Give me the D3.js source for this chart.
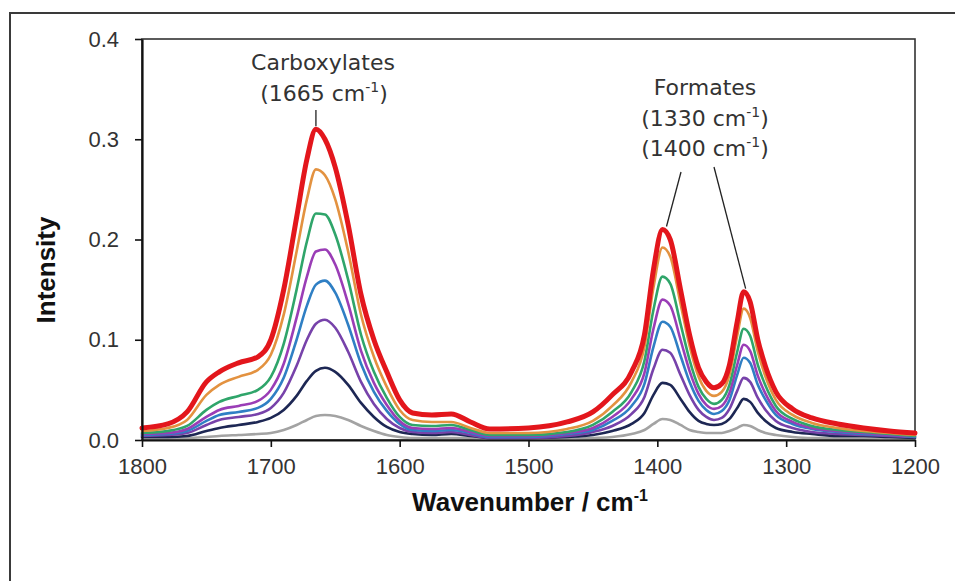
<!DOCTYPE html>
<html>
<head>
<meta charset="utf-8">
<script src="https://cdn.jsdelivr.net/npm/d3@7"></script>
<style>
  html, body { margin: 0; padding: 0; background: #fff; }
  svg { display: block; }
</style>
</head>
<body>
<svg id="chart" width="955" height="581"></svg>
<script>
// Wavenumber grid (cm-1) shared by all spectra
const wavenumbers = [1800, 1780, 1765, 1750, 1740, 1725, 1710, 1700, 1690, 1680, 1672, 1665, 1658, 1650, 1640, 1630, 1620, 1610, 1600, 1590, 1575, 1560, 1545, 1530, 1500, 1470, 1450, 1435, 1420, 1410, 1403, 1396, 1390, 1382, 1375, 1368, 1362, 1356, 1350, 1344, 1338, 1333, 1328, 1322, 1316, 1308, 1295, 1280, 1260, 1240, 1220, 1200];

// Intensities, from the weakest spectrum to the strongest
const spectrum1 = [0.002, 0.002, 0.002, 0.003, 0.004, 0.005, 0.006, 0.007, 0.010, 0.015, 0.020, 0.024, 0.025, 0.024, 0.020, 0.014, 0.009, 0.005, 0.003, 0.002, 0.002, 0.002, 0.002, 0.001, 0.001, 0.001, 0.002, 0.003, 0.006, 0.010, 0.016, 0.021, 0.020, 0.015, 0.010, 0.008, 0.007, 0.007, 0.007, 0.009, 0.012, 0.015, 0.014, 0.010, 0.007, 0.005, 0.003, 0.002, 0.002, 0.002, 0.001, 0.001];
const spectrum2 = [0.003, 0.003, 0.004, 0.009, 0.012, 0.015, 0.018, 0.022, 0.030, 0.044, 0.059, 0.069, 0.072, 0.068, 0.055, 0.037, 0.023, 0.013, 0.008, 0.006, 0.005, 0.006, 0.004, 0.002, 0.002, 0.003, 0.005, 0.009, 0.016, 0.027, 0.045, 0.057, 0.055, 0.041, 0.028, 0.019, 0.016, 0.015, 0.016, 0.021, 0.032, 0.041, 0.038, 0.027, 0.019, 0.012, 0.008, 0.006, 0.004, 0.004, 0.003, 0.002];
const spectrum3 = [0.004, 0.005, 0.007, 0.015, 0.020, 0.023, 0.026, 0.032, 0.047, 0.074, 0.100, 0.116, 0.120, 0.112, 0.088, 0.058, 0.036, 0.021, 0.012, 0.008, 0.007, 0.008, 0.005, 0.002, 0.002, 0.004, 0.008, 0.014, 0.026, 0.043, 0.071, 0.090, 0.087, 0.065, 0.045, 0.030, 0.023, 0.020, 0.022, 0.031, 0.049, 0.062, 0.058, 0.042, 0.030, 0.019, 0.012, 0.008, 0.006, 0.005, 0.004, 0.003];
const spectrum4 = [0.005, 0.006, 0.009, 0.019, 0.025, 0.028, 0.032, 0.041, 0.062, 0.100, 0.134, 0.155, 0.159, 0.147, 0.115, 0.076, 0.048, 0.029, 0.016, 0.010, 0.009, 0.010, 0.007, 0.003, 0.003, 0.006, 0.010, 0.019, 0.034, 0.056, 0.093, 0.118, 0.113, 0.084, 0.058, 0.039, 0.030, 0.026, 0.029, 0.040, 0.065, 0.082, 0.077, 0.055, 0.040, 0.025, 0.016, 0.011, 0.008, 0.006, 0.005, 0.003];
const spectrum5 = [0.006, 0.007, 0.011, 0.023, 0.030, 0.034, 0.039, 0.050, 0.076, 0.122, 0.163, 0.188, 0.190, 0.175, 0.136, 0.089, 0.057, 0.035, 0.019, 0.012, 0.011, 0.012, 0.008, 0.004, 0.004, 0.007, 0.012, 0.023, 0.041, 0.067, 0.111, 0.140, 0.134, 0.100, 0.069, 0.046, 0.035, 0.031, 0.034, 0.047, 0.075, 0.095, 0.089, 0.064, 0.046, 0.029, 0.018, 0.012, 0.009, 0.007, 0.005, 0.004];
const spectrum6 = [0.007, 0.009, 0.014, 0.030, 0.038, 0.044, 0.050, 0.063, 0.096, 0.150, 0.198, 0.226, 0.225, 0.205, 0.160, 0.105, 0.068, 0.042, 0.023, 0.015, 0.014, 0.015, 0.010, 0.005, 0.005, 0.008, 0.015, 0.028, 0.048, 0.079, 0.130, 0.163, 0.156, 0.116, 0.080, 0.053, 0.041, 0.036, 0.040, 0.055, 0.088, 0.111, 0.104, 0.075, 0.054, 0.034, 0.021, 0.014, 0.010, 0.008, 0.006, 0.004];
const spectrum7 = [0.009, 0.012, 0.020, 0.045, 0.055, 0.063, 0.070, 0.085, 0.125, 0.188, 0.240, 0.270, 0.264, 0.240, 0.188, 0.125, 0.083, 0.053, 0.030, 0.020, 0.018, 0.018, 0.012, 0.007, 0.007, 0.011, 0.019, 0.034, 0.058, 0.093, 0.152, 0.192, 0.183, 0.136, 0.094, 0.063, 0.049, 0.044, 0.048, 0.065, 0.104, 0.131, 0.122, 0.088, 0.063, 0.040, 0.025, 0.017, 0.012, 0.009, 0.007, 0.005];
const spectrum8 = [0.012, 0.016, 0.028, 0.058, 0.068, 0.077, 0.083, 0.100, 0.150, 0.222, 0.280, 0.310, 0.300, 0.272, 0.215, 0.145, 0.100, 0.068, 0.040, 0.027, 0.025, 0.026, 0.018, 0.011, 0.012, 0.018, 0.028, 0.045, 0.068, 0.105, 0.170, 0.210, 0.200, 0.150, 0.105, 0.072, 0.058, 0.052, 0.056, 0.075, 0.118, 0.148, 0.138, 0.100, 0.073, 0.048, 0.031, 0.022, 0.016, 0.012, 0.009, 0.007];

const xTickValues = [1800, 1700, 1600, 1500, 1400, 1300, 1200];
const yTickValues = [0, 0.1, 0.2, 0.3, 0.4];

// Band assignments: label lines and the peak each one points at
const carboxylateLabel = ["Carboxylates", "(1665 cm", ")"];
const carboxylatePeak = { wavenumber: 1665, intensity: 0.310 };
const formateLabel = ["Formates", "(1330 cm", ")", "(1400 cm", ")"];
const formatePeaks = [
  { wavenumber: 1396, intensity: 0.210 },
  { wavenumber: 1333, intensity: 0.148 }
];

const spectra = [spectrum1, spectrum2, spectrum3, spectrum4, spectrum5, spectrum6, spectrum7, spectrum8];
const colors = ["#a3a3a3", "#1d2754", "#7742aa", "#2f7fc4", "#9a3db6", "#2fa56a", "#e39240", "#e3161c"];
const widths = [2.6, 2.6, 2.6, 2.6, 2.6, 2.6, 2.6, 5];

const svg = d3.select("#chart");

// Outer frame
svg.append("rect")
  .attr("x", 10).attr("y", 13)
  .attr("width", 970).attr("height", 600)
  .attr("fill", "none").attr("stroke", "#3a3a3a").attr("stroke-width", 2);

const x = d3.scaleLinear().domain([1800, 1200]).range([142, 915]);
const y = d3.scaleLinear().domain([0, 0.4]).range([440, 39]);

// Plot area border
svg.append("rect")
  .attr("x", x(1800)).attr("y", y(0.4))
  .attr("width", x(1200) - x(1800)).attr("height", y(0) - y(0.4))
  .attr("fill", "none").attr("stroke", "#333").attr("stroke-width", 1.6);

// Spectra
const line = d3.line()
  .x((d, i) => x(wavenumbers[i]))
  .y(d => y(d))
  .curve(d3.curveMonotoneX);

svg.append("g").selectAll("path")
  .data(spectra)
  .join("path")
  .attr("d", d => line(d))
  .attr("fill", "none")
  .attr("stroke", (d, i) => colors[i])
  .attr("stroke-width", (d, i) => widths[i])
  .attr("stroke-linejoin", "round")
  .attr("stroke-linecap", "round");

// Axes
const xAxis = svg.append("g")
  .attr("transform", `translate(0,${y(0)})`)
  .call(d3.axisBottom(x).tickValues(xTickValues).tickFormat(d3.format("d")).tickSize(7).tickSizeOuter(0).tickPadding(11));
const yAxis = svg.append("g")
  .attr("transform", `translate(${x(1800)},0)`)
  .call(d3.axisLeft(y).tickValues(yTickValues).tickFormat(d3.format(".1f")).tickSize(7).tickSizeOuter(0).tickPadding(16));

[xAxis, yAxis].forEach(g => {
  g.select(".domain").attr("stroke", "#111").attr("stroke-width", 2.2);
  g.selectAll(".tick line").attr("stroke", "#111").attr("stroke-width", 1.6);
  g.selectAll(".tick text")
    .attr("fill", "#333")
    .style("font-family", "'Liberation Sans', Arial, sans-serif")
    .style("font-size", "22px");
});

// Axis titles
const xTitle = svg.append("text")
  .attr("x", 530).attr("y", 511)
  .attr("text-anchor", "middle")
  .style("font-family", "'Liberation Sans', Arial, sans-serif")
  .style("font-weight", "bold").style("font-size", "26px")
  .attr("fill", "#111");
xTitle.append("tspan").text("Wavenumber / cm");
xTitle.append("tspan").attr("dy", -10).style("font-size", "16px").text("-1");

svg.append("text")
  .attr("transform", "rotate(-90)")
  .attr("x", -270).attr("y", 55)
  .attr("text-anchor", "middle")
  .style("font-family", "'Liberation Sans', Arial, sans-serif")
  .style("font-weight", "bold").style("font-size", "26px")
  .attr("fill", "#111")
  .text("Intensity");

// Band annotations
const annoFont = "'DejaVu Sans', Verdana, sans-serif";
function annoLine(cx, baseline, parts) {
  const t = svg.append("text")
    .attr("x", cx).attr("y", baseline)
    .attr("text-anchor", "middle")
    .style("font-family", annoFont).style("font-size", "22px")
    .attr("fill", "#333");
  if (parts.length === 1) {
    t.text(parts[0]);
  } else {
    t.append("tspan").text(parts[0] + "");
    t.append("tspan").attr("dy", -9).style("font-size", "14px").text("-1");
    t.append("tspan").attr("dy", 9).text(parts[1]);
  }
}

annoLine(323, 70, [carboxylateLabel[0]]);
annoLine(324, 101, [carboxylateLabel[1], carboxylateLabel[2]]);
annoLine(705, 95, [formateLabel[0]]);
annoLine(705, 126, [formateLabel[1], formateLabel[2]]);
annoLine(705, 156, [formateLabel[3], formateLabel[4]]);

const leader = svg.append("g").attr("stroke", "#222").attr("stroke-width", 1.3);
leader.append("line")
  .attr("x1", x(carboxylatePeak.wavenumber)).attr("y1", 110)
  .attr("x2", x(carboxylatePeak.wavenumber)).attr("y2", y(carboxylatePeak.intensity) - 3);
leader.append("line")
  .attr("x1", 681).attr("y1", 172)
  .attr("x2", x(formatePeaks[0].wavenumber) + 4).attr("y2", y(formatePeaks[0].intensity) - 3);
leader.append("line")
  .attr("x1", 714).attr("y1", 167)
  .attr("x2", x(formatePeaks[1].wavenumber) + 2).attr("y2", y(formatePeaks[1].intensity) - 3);
</script>
</body>
</html>
